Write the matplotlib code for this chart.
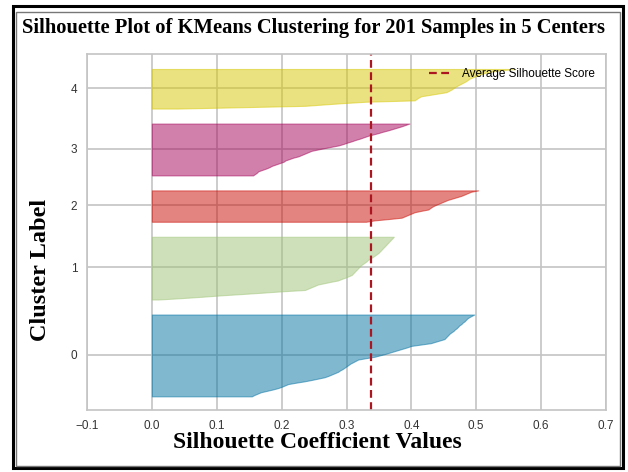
import numpy as np
import matplotlib
matplotlib.use("Agg")
import matplotlib.pyplot as plt
from matplotlib.patches import Rectangle

# ---- data (sorted silhouette values per cluster) ----
cluster_labels = [0, 1, 2, 3, 4]
cluster_colors = ['#0272a2', '#9fc377', '#ca0b03', '#a50258', '#d7c703']

sil_c0 = [0.154, 0.158, 0.163, 0.168, 0.177, 0.186, 0.194, 0.200, 0.205, 0.210,
          0.222, 0.235, 0.246, 0.256, 0.266, 0.272, 0.277, 0.282, 0.287, 0.290,
          0.294, 0.297, 0.300, 0.303, 0.306, 0.310, 0.314, 0.318, 0.330, 0.343,
          0.351, 0.359, 0.366, 0.373, 0.380, 0.387, 0.394, 0.400, 0.415, 0.430,
          0.437, 0.444, 0.451, 0.453, 0.455, 0.457, 0.459, 0.462, 0.465, 0.467,
          0.470, 0.472, 0.474, 0.477, 0.479, 0.482, 0.484, 0.486, 0.489, 0.493,
          0.497]
sil_c1 = [0.010, 0.045, 0.077, 0.105, 0.138, 0.170, 0.200, 0.236, 0.241, 0.246,
          0.251, 0.256, 0.266, 0.276, 0.287, 0.292, 0.298, 0.303, 0.308, 0.310,
          0.312, 0.314, 0.316, 0.318, 0.320, 0.322, 0.325, 0.328, 0.331, 0.333,
          0.336, 0.340, 0.343, 0.346, 0.349, 0.351, 0.353, 0.355, 0.357, 0.359,
          0.361, 0.363, 0.365, 0.367, 0.369, 0.371, 0.373]
sil_c2 = [0.330, 0.343, 0.365, 0.385, 0.390, 0.395, 0.400, 0.405, 0.415, 0.426,
          0.429, 0.432, 0.436, 0.441, 0.446, 0.451, 0.456, 0.463, 0.470, 0.477,
          0.482, 0.487, 0.492, 0.503]
sil_c3 = [0.156, 0.159, 0.162, 0.164, 0.170, 0.176, 0.181, 0.185, 0.191, 0.197,
          0.203, 0.206, 0.212, 0.218, 0.226, 0.231, 0.236, 0.241, 0.246, 0.256,
          0.266, 0.277, 0.288, 0.295, 0.301, 0.308, 0.314, 0.321, 0.327, 0.333,
          0.341, 0.349, 0.356, 0.364, 0.371, 0.378, 0.385, 0.391, 0.397]
sil_c4 = [0.040, 0.140, 0.236, 0.265, 0.295, 0.330, 0.405, 0.408, 0.411, 0.415,
          0.428, 0.441, 0.454, 0.458, 0.462, 0.465, 0.468, 0.472, 0.476, 0.480,
          0.484, 0.487, 0.490, 0.495, 0.500, 0.505, 0.512, 0.522, 0.535, 0.560]
sil_values = [sil_c0, sil_c1, sil_c2, sil_c3, sil_c4]
avg_score = 0.338

x_ticks = [-0.1, 0.0, 0.1, 0.2, 0.3, 0.4, 0.5, 0.6, 0.7]

title = "Silhouette Plot of KMeans Clustering for 201 Samples in 5 Centers"
xlabel = "Silhouette Coefficient Values"
ylabel = "Cluster Label"

# ---- figure ----
W, H = 628, 472
fig = plt.figure(figsize=(W / 100, H / 100), dpi=100)
ax = fig.add_axes([87 / W, 1 - 410 / H, (606 - 87) / W, (410 - 54) / H])

grid_c = '#c4c4c4'
y_lower = 10
yticks = []
for lab, vals, col in zip(cluster_labels, sil_values, cluster_colors):
    n = len(vals)
    y_upper = y_lower + n
    ax.fill_betweenx(np.arange(y_lower, y_upper), 0, vals,
                     facecolor=col, edgecolor=col, alpha=0.5, linewidth=0.8)
    yticks.append(y_lower + 0.5 * n)
    y_lower = y_upper + 10

ax.axvline(x=avg_score, color='#ac1620', linestyle='--', linewidth=1.6,
           dashes=(3.5, 2), label='Average Silhouette Score')

ax.set_xlim(x_ticks[0], x_ticks[-1])
ax.set_ylim(0, y_lower)
ax.set_xticks(x_ticks)
ax.set_xticklabels(['\u22120.1' if t < 0 else f'{t:.1f}' for t in x_ticks])
ax.set_yticks(yticks)
ax.set_yticklabels([str(l) for l in cluster_labels])
ax.set_axisbelow(True)
ax.grid(True, color=grid_c, linewidth=1.2)
for s in ax.spines.values():
    s.set_color(grid_c)
    s.set_linewidth(1.2)
ax.tick_params(length=0, labelsize=8.5, colors='#333333', pad=7)
for lbl in ax.get_xticklabels() + ax.get_yticklabels():
    lbl.set_family('Liberation Sans')

leg = ax.legend(loc='upper right', frameon=False,
                prop={'family': 'Liberation Sans', 'size': 8.5},
                bbox_to_anchor=(1.0, 0.99), handlelength=2.0)

serif = 'Liberation Serif'
fig.text(0.5, 1 - 28 / H, title, ha='center', va='center',
         fontsize=14.8, fontweight='bold', family=serif)
fig.text(317 / W, 1 - 443 / H, xlabel, ha='center', va='center',
         fontsize=17, fontweight='bold', family=serif)
fig.text(40 / W, 1 - 270 / H, ylabel, ha='center', va='center', rotation=90,
         fontsize=17.5, fontweight='bold', family=serif)

# frame around the whole picture
fig.patches.append(Rectangle((12.5 / W, 1 - 467.5 / H), (623 - 12.5) / W, (467.5 - 5.5) / H,
                             transform=fig.transFigure, fill=False,
                             edgecolor='black', linewidth=2.2))
fig.patches.append(Rectangle((15.5 / W, 1 - 466 / H), (620 - 15.5) / W, (466 - 12) / H,
                             transform=fig.transFigure, fill=False,
                             edgecolor='#777777', linewidth=1.0))

fig.savefig('out.png', dpi=100)
